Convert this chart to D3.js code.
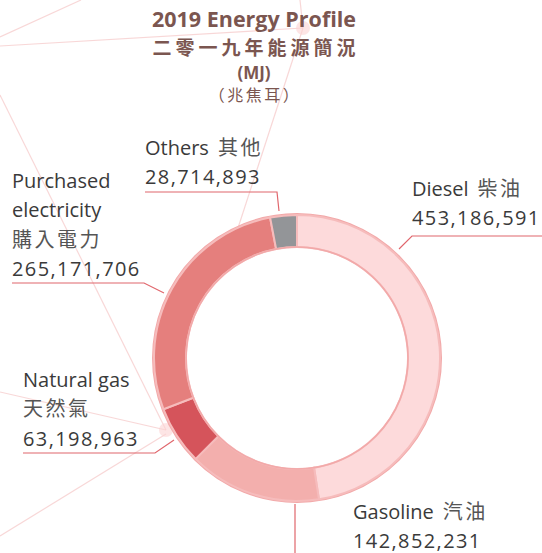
<!DOCTYPE html>
<html>
<head>
<meta charset="utf-8">
<script src="https://cdn.jsdelivr.net/npm/d3@7"></script>
<style>
  html, body { margin: 0; padding: 0; background: #fff; }
  svg { display: block; }
  .label { font-family: "Open Sans", "Noto Sans CJK TC", sans-serif; font-size: 20px; fill: #3a3a3a; }
  .label .zh { fill: #555; }
  .title { font-family: "Open Sans", "Noto Sans CJK TC", sans-serif; fill: #7b5650; text-anchor: middle; }
</style>
</head>
<body>
<div id="chart"></div>
<script>
const categories = ["Diesel", "Gasoline", "Natural gas", "Purchased electricity", "Others"];
const categoriesZh = ["柴油", "汽油", "天然氣", "購入電力", "其他"];
const values = [453186591, 142852231, 63198963, 265171706, 28714893];
const colors = ["#fddadb", "#f3afad", "#d5545b", "#e57f7d", "#939598"];

const titleLines = ["2019 Energy Profile", "二零一九年能源簡況", "(MJ)", "（兆焦耳）"];

const width = 542;
const height = 553;
const cx = 297;
const cy = 358;
const outerR = 143;
const innerR = 111;

const svg = d3.select("#chart")
  .append("svg")
  .attr("width", width)
  .attr("height", height);

// faint decorative network lines in the background
const bgLines = [
  [[0, 37], [81, 0]],
  [[0, 46], [303, 28]],
  [[303, 28], [300, 0]],
  [[303, 28], [238, 228]],
  [[0, 95], [166, 430]],
  [[0, 392], [166, 430]],
  [[0, 536], [166, 434]]
];
svg.append("g")
  .selectAll("line")
  .data(bgLines)
  .join("line")
  .attr("x1", (d) => d[0][0])
  .attr("y1", (d) => d[0][1])
  .attr("x2", (d) => d[1][0])
  .attr("y2", (d) => d[1][1])
  .attr("stroke", "#f4b8b8")
  .attr("stroke-width", 1.2)
  .attr("opacity", 0.55);

svg.append("g")
  .selectAll("circle")
  .data([[303, 28], [166, 430]])
  .join("circle")
  .attr("cx", (d) => d[0])
  .attr("cy", (d) => d[1])
  .attr("r", 7)
  .attr("fill", "#fbd3d3")
  .attr("opacity", 0.6);

// title
const title = svg.append("g").attr("class", "title");
title.append("text").attr("x", 254).attr("y", 27).attr("font-size", 21.5).attr("font-weight", "bold").text(titleLines[0]);
title.append("text").attr("x", 256).attr("y", 55).attr("font-size", 19).attr("letter-spacing", 4).attr("font-weight", "bold").text(titleLines[1]);
title.append("text").attr("x", 254).attr("y", 79).attr("font-size", 17).attr("font-weight", "bold").text(titleLines[2]);
title.append("text").attr("x", 255).attr("y", 101).attr("font-size", 16).attr("letter-spacing", 2.5).text(titleLines[3]);

// donut
const pie = d3.pie().sort(null).value((d) => d)(values);
const arc = d3.arc().innerRadius(innerR).outerRadius(outerR);

const ring = svg.append("g").attr("transform", `translate(${cx},${cy})`);
ring.append("circle")
  .attr("r", outerR + 1)
  .attr("fill", "none")
  .attr("stroke", "#f2a9a9")
  .attr("stroke-width", 2);
ring.selectAll("path")
  .data(pie)
  .join("path")
  .attr("d", arc)
  .attr("fill", (d, i) => colors[i])
  .attr("stroke", "#f6bcbc")
  .attr("stroke-width", 2);
ring.append("circle")
  .attr("r", innerR)
  .attr("fill", "none")
  .attr("stroke", "#f2a9a9")
  .attr("stroke-width", 1.5);

// labels: english lines, chinese (inline or own line), value
const fmt = d3.format(",");
const labelLayout = [
  { en: ["Diesel"], zhInline: true, x: 412, y: 196, line: [[399, 249], [412, 236], [542, 236]] },
  { en: ["Gasoline"], zhInline: true, x: 353, y: 519, line: [[295, 504], [295, 553]] },
  { en: ["Natural gas"], zhInline: false, x: 23, y: 387, line: [[23, 453], [155, 453], [174, 440]] },
  { en: ["Purchased", "electricity"], zhInline: false, x: 12, y: 188, line: [[12, 283], [144, 283], [164, 293]] },
  { en: ["Others"], zhInline: true, x: 145, y: 155, line: [[145, 192], [277, 192], [279, 211]] }
];

const lineHeight = 29.3;
const labels = svg.append("g");
labelLayout.forEach((l, i) => {
  const t = labels.append("text").attr("class", "label");
  let row = 0;
  l.en.forEach((s) => {
    t.append("tspan").attr("x", l.x).attr("y", l.y + row * lineHeight).text(s);
    row += 1;
  });
  if (l.zhInline) {
    t.append("tspan").attr("class", "zh").attr("dx", 9).attr("letter-spacing", 2.5).text(categoriesZh[i]);
    row -= 1;
  } else {
    t.append("tspan").attr("class", "zh").attr("x", l.x).attr("y", l.y + row * lineHeight)
      .attr("letter-spacing", 2.5).text(categoriesZh[i]);
  }
  row += 1;
  t.append("tspan")
    .attr("x", l.x)
    .attr("y", l.y + row * lineHeight)
    .attr("letter-spacing", 1.4)
    .text(fmt(values[i]));
  labels.append("path")
    .attr("d", d3.line()(l.line))
    .attr("fill", "none")
    .attr("stroke", "#e0666c")
    .attr("stroke-width", 1.2);
});
</script>
</body>
</html>
